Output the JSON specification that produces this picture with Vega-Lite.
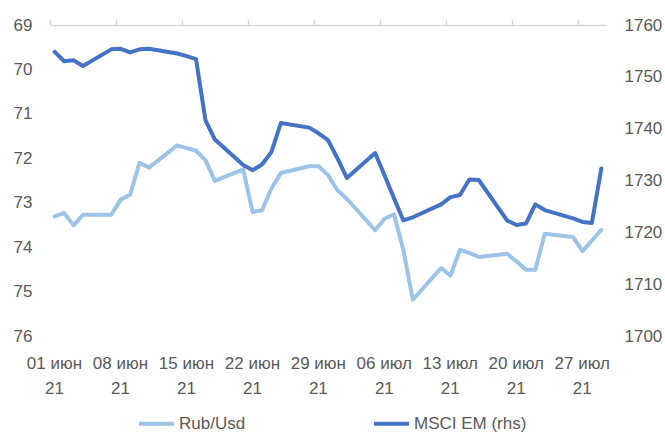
{
  "$schema": "https://vega.github.io/schema/vega-lite/v6.json",
  "width": 556,
  "height": 311,
  "autosize": {"type": "none"},
  "padding": {"left": 50, "top": 25, "right": 59, "bottom": 97},
  "background": "white",
  "config": {
    "view": {"stroke": null},
    "font": "Liberation Sans",
    "axis": {"labelFont": "Liberation Sans", "labelFontSize": 17, "labelColor": "#595959", "grid": false},
    "legend": {"labelFont": "Liberation Sans", "labelFontSize": 17, "labelColor": "#595959"}
  },
  "data": {
    "values": [
      {"date": "2021-06-01T12:00:00", "rub": 73.31, "msci": 1754.8},
      {"date": "2021-06-02T12:00:00", "rub": 73.23, "msci": 1753.0},
      {"date": "2021-06-03T12:00:00", "rub": 73.51, "msci": 1753.2},
      {"date": "2021-06-04T12:00:00", "rub": 73.27, "msci": 1752.1},
      {"date": "2021-06-07T12:00:00", "rub": 73.27, "msci": 1755.3},
      {"date": "2021-06-08T12:00:00", "rub": 72.93, "msci": 1755.4},
      {"date": "2021-06-09T12:00:00", "rub": 72.82, "msci": 1754.7},
      {"date": "2021-06-10T12:00:00", "rub": 72.10, "msci": 1755.3},
      {"date": "2021-06-11T12:00:00", "rub": 72.21, "msci": 1755.4},
      {"date": "2021-06-14T12:00:00", "rub": 71.71, "msci": 1754.5},
      {"date": "2021-06-15T12:00:00", "rub": 71.77, "msci": 1754.0},
      {"date": "2021-06-16T12:00:00", "rub": 71.83, "msci": 1753.4},
      {"date": "2021-06-17T12:00:00", "rub": 72.04, "msci": 1741.6},
      {"date": "2021-06-18T12:00:00", "rub": 72.51, "msci": 1737.9},
      {"date": "2021-06-21T12:00:00", "rub": 72.25, "msci": 1733.0},
      {"date": "2021-06-22T12:00:00", "rub": 73.21, "msci": 1732.0},
      {"date": "2021-06-23T12:00:00", "rub": 73.17, "msci": 1733.1},
      {"date": "2021-06-24T12:00:00", "rub": 72.68, "msci": 1735.5},
      {"date": "2021-06-25T12:00:00", "rub": 72.33, "msci": 1741.1},
      {"date": "2021-06-28T12:00:00", "rub": 72.18, "msci": 1740.2},
      {"date": "2021-06-29T12:00:00", "rub": 72.18, "msci": 1739.1},
      {"date": "2021-06-30T12:00:00", "rub": 72.38, "msci": 1737.8},
      {"date": "2021-07-01T12:00:00", "rub": 72.72, "msci": 1734.3},
      {"date": "2021-07-02T12:00:00", "rub": 72.91, "msci": 1730.5},
      {"date": "2021-07-05T12:00:00", "rub": 73.62, "msci": 1735.3},
      {"date": "2021-07-06T12:00:00", "rub": 73.36, "msci": 1731.0},
      {"date": "2021-07-07T12:00:00", "rub": 73.26, "msci": 1726.6},
      {"date": "2021-07-08T12:00:00", "rub": 74.07, "msci": 1722.3},
      {"date": "2021-07-09T12:00:00", "rub": 75.18, "msci": 1722.9},
      {"date": "2021-07-12T12:00:00", "rub": 74.47, "msci": 1725.4},
      {"date": "2021-07-13T12:00:00", "rub": 74.64, "msci": 1726.8},
      {"date": "2021-07-14T12:00:00", "rub": 74.06, "msci": 1727.2},
      {"date": "2021-07-15T12:00:00", "rub": 74.13, "msci": 1730.2},
      {"date": "2021-07-16T12:00:00", "rub": 74.22, "msci": 1730.1},
      {"date": "2021-07-19T12:00:00", "rub": 74.15, "msci": 1722.3},
      {"date": "2021-07-20T12:00:00", "rub": 74.32, "msci": 1721.4},
      {"date": "2021-07-21T12:00:00", "rub": 74.51, "msci": 1721.7},
      {"date": "2021-07-22T12:00:00", "rub": 74.51, "msci": 1725.4},
      {"date": "2021-07-23T12:00:00", "rub": 73.70, "msci": 1724.3},
      {"date": "2021-07-26T12:00:00", "rub": 73.77, "msci": 1722.7},
      {"date": "2021-07-27T12:00:00", "rub": 74.09, "msci": 1722.0},
      {"date": "2021-07-28T12:00:00", "rub": 73.85, "msci": 1721.8},
      {"date": "2021-07-29T12:00:00", "rub": 73.61, "msci": 1732.3}
    ]
  },
  "layer": [
    {
      "mark": {"type": "line", "strokeWidth": 4, "strokeJoin": "round", "strokeCap": "round"},
      "encoding": {
        "x": {
          "field": "date", "type": "temporal",
          "scale": {"domain": [{"year": 2021, "month": 6, "date": 1}, {"year": 2021, "month": 7, "date": 30}]},
          "axis": {
            "orient": "top", "title": null, "labels": false,
            "values": [
              {"year": 2021, "month": 6, "date": 1}, {"year": 2021, "month": 6, "date": 8},
              {"year": 2021, "month": 6, "date": 15}, {"year": 2021, "month": 6, "date": 22},
              {"year": 2021, "month": 6, "date": 29}, {"year": 2021, "month": 7, "date": 6},
              {"year": 2021, "month": 7, "date": 13}, {"year": 2021, "month": 7, "date": 20},
              {"year": 2021, "month": 7, "date": 27}
            ],
            "domainColor": "#d9d9d9", "domainWidth": 1.5, "tickColor": "#d9d9d9", "tickWidth": 1.5, "tickSize": 6
          }
        },
        "y": {
          "field": "rub", "type": "quantitative",
          "scale": {"domain": [69, 76], "reverse": true, "nice": false, "zero": false},
          "axis": {"orient": "left", "title": null, "domain": false, "ticks": false, "labelPadding": 18,
                   "values": [69, 70, 71, 72, 73, 74, 75, 76]}
        },
        "color": {
          "datum": "Rub/Usd",
          "scale": {"domain": ["Rub/Usd", "MSCI EM (rhs)"], "range": ["#9DC3E6", "#4472C4"]},
          "legend": {
            "title": null, "orient": "none", "direction": "horizontal",
            "legendX": 87, "legendY": 379, "padding": 0,
            "symbolType": "stroke", "symbolSize": 1225, "symbolStrokeWidth": 4,
            "labelOffset": 3, "columnPadding": 120
          }
        }
      }
    },
    {
      "mark": {"type": "line", "strokeWidth": 4, "strokeJoin": "round", "strokeCap": "round"},
      "encoding": {
        "x": {
          "field": "date", "type": "temporal",
          "axis": {
            "orient": "bottom", "title": null, "domain": false, "ticks": false,
            "values": [
              {"year": 2021, "month": 6, "date": 1}, {"year": 2021, "month": 6, "date": 8},
              {"year": 2021, "month": 6, "date": 15}, {"year": 2021, "month": 6, "date": 22},
              {"year": 2021, "month": 6, "date": 29}, {"year": 2021, "month": 7, "date": 6},
              {"year": 2021, "month": 7, "date": 13}, {"year": 2021, "month": 7, "date": 20},
              {"year": 2021, "month": 7, "date": 27}
            ],
            "labelExpr": "[timeFormat(datum.value, '%d') + ' ' + (month(datum.value) == 5 ? 'июн' : 'июл'), '21']",
            "labelOffset": 4, "labelPadding": 27, "labelLineHeight": 25, "labelOverlap": false,
            "labelFlush": false, "labelAlign": "center", "labelBaseline": "middle"
          }
        },
        "y": {
          "field": "msci", "type": "quantitative",
          "scale": {"domain": [1700, 1760], "nice": false, "zero": false},
          "axis": {"orient": "right", "title": null, "domain": false, "ticks": false, "labelPadding": 18,
                   "format": "d", "values": [1700, 1710, 1720, 1730, 1740, 1750, 1760]}
        },
        "color": {"datum": "MSCI EM (rhs)"}
      }
    }
  ],
  "resolve": {"scale": {"y": "independent"}, "axis": {"x": "independent", "y": "independent"}}
}
